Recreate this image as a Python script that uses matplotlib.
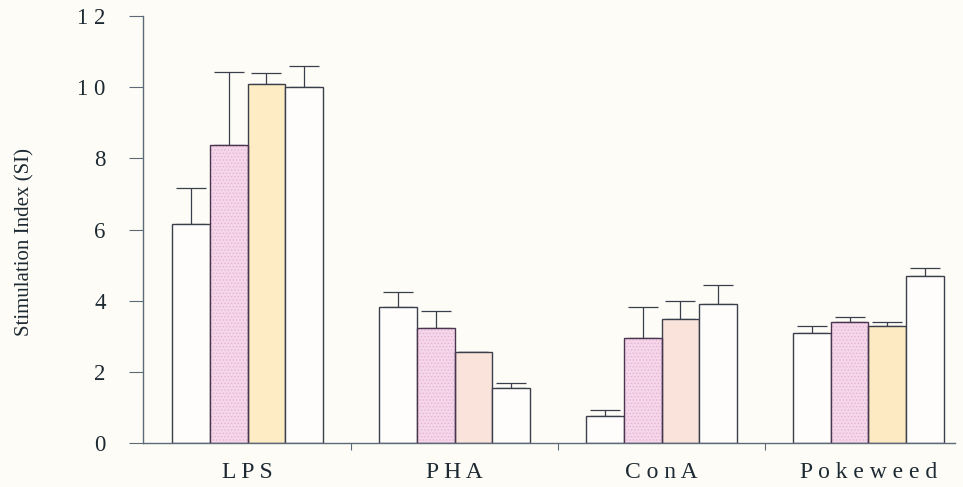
import matplotlib.pyplot as plt
import numpy as np

plt.rcParams['font.family'] = ['Liberation Serif', 'DejaVu Serif']
plt.rcParams['hatch.linewidth'] = 0.6

groups = ['L P S', 'P H A', 'C o n A', 'P o k e w e e d']
# four treatment series per mitogen group
si_1 = [6.15, 3.82, 0.76, 3.09]
si_2 = [8.38, 3.23, 2.95, 3.40]
si_3 = [10.09, 2.56, 3.48, 3.29]
si_4 = [10.00, 1.55, 3.91, 4.69]
err_1 = [1.02, 0.42, 0.17, 0.20]
err_2 = [2.05, 0.48, 0.87, 0.14]
err_3 = [0.31, 0.0, 0.51, 0.11]
err_4 = [0.60, 0.14, 0.53, 0.23]

bg = '#fdfcf6'
edge = '#3b3f4c'
axcol = '#5d6b78'
txt = '#1e2a33'
fill_1 = '#fefdfb'
fill_2 = '#f6d6ea'
fill_3 = ['#fdecc4', '#fae3da', '#fae3da', '#fde9c2']
fill_4 = '#fefdfb'

fig = plt.figure(figsize=(9.63, 4.87), dpi=100, facecolor=bg)
ax = fig.add_axes([0.1485, 0.0903, 0.8432, 0.8768], facecolor=bg)

x = np.arange(len(groups))
w = 0.182
offs = [-1.5 * w, -0.5 * w, 0.5 * w, 1.5 * w]
series = [si_1, si_2, si_3, si_4]
errs = [err_1, err_2, err_3, err_4]
fills = [fill_1, fill_2, fill_3, fill_4]

for i in range(4):
    if i == 1:
        # dotted fill for the second series
        ax.bar(x + offs[i], series[i], width=w, color=fills[i],
               edgecolor='#e4b4d0', linewidth=0, hatch='.....', zorder=2)
        ax.bar(x + offs[i], series[i], width=w, color='none',
               edgecolor='#4a3550', linewidth=1.0, zorder=3)
    else:
        ax.bar(x + offs[i], series[i], width=w, color=fills[i],
               edgecolor=edge, linewidth=1.0, zorder=2)
    e = np.array(errs[i])
    ax.errorbar(x + offs[i], series[i], yerr=[np.zeros_like(e), e],
                fmt='none', ecolor=edge, elinewidth=0.9, capsize=11,
                capthick=0.9, zorder=1)

ax.set_xlim(-0.505, 3.418)
ax.set_ylim(0, 12)
ax.set_yticks([0, 2, 4, 6, 8, 10, 12])
ax.set_yticklabels(['0', '2', '4', '6', '8', '1 0', '1 2'], fontsize=16.5)
ax.set_xticks(x)
ax.set_xticklabels(groups, fontsize=17)
ax.tick_params(axis='x', length=0, pad=14, colors=txt)
ax.tick_params(axis='y', direction='out', length=10, width=0.8,
               color=axcol, labelcolor=txt, pad=17)
ax.set_xticks([0.5, 1.5, 2.5], minor=True)
ax.tick_params(axis='x', which='minor', direction='out', length=5,
               width=0.8, color=axcol)
ax.set_ylabel('Stimulation Index (SI)', fontsize=15, color=txt)
ax.yaxis.set_label_coords(-0.134, 0.47)

for s in ['top', 'right']:
    ax.spines[s].set_visible(False)
for s in ['left', 'bottom']:
    ax.spines[s].set_color(axcol)
    ax.spines[s].set_linewidth(1.0)

plt.savefig('out.png', dpi=100, facecolor=bg)
